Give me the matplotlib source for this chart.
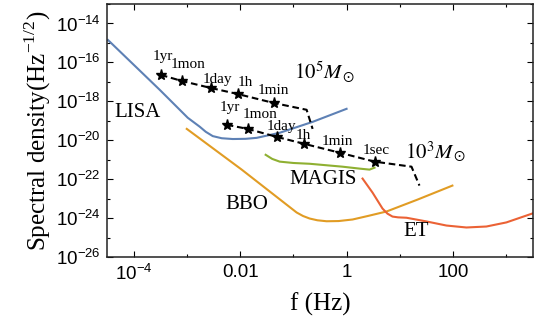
import numpy as np
import matplotlib
matplotlib.use('Agg')
from matplotlib import pyplot as plt
from matplotlib.ticker import FixedLocator, NullFormatter

# log10 values
lisa_logf = [-4.49, -3.515, -2.989, -2.763, -2.65, -2.519, -2.35, -2.143, -1.9, -1.692,
             -1.259, -0.639, 0.0]
lisa_logs = [-14.85, -17.41, -18.84, -19.30, -19.56, -19.78, -19.89, -19.93, -19.92, -19.87,
             -19.61, -19.05, -18.38]

bbo_logf = [-3.008, -1.974, -0.940, -0.82, -0.695, -0.55, -0.376, -0.15, 0.113, 0.4,
            0.752, 1.335, 1.992]
bbo_logs = [-19.41, -21.50, -23.70, -23.88, -24.01, -24.10, -24.15, -24.14, -24.06, -23.88,
            -23.65, -23.04, -22.32]

magis_logf = [-1.523, -1.40, -1.259, -1.0, -0.695, -0.075, 0.25, 0.432, 0.526]
magis_logs = [-20.74, -20.95, -21.09, -21.16, -21.20, -21.35, -21.45, -21.50, -21.40]

et_logf = [0.301, 0.489, 0.677, 0.77, 0.865, 0.97, 1.128, 1.504, 1.880, 2.256, 2.632,
           3.008, 3.5]
et_logs = [-21.96, -22.68, -23.50, -23.76, -23.91, -23.95, -23.97, -24.16, -24.37, -24.47,
           -24.42, -24.21, -23.75]

# inspiral tracks: starred points first, then the corner and end of the track
times_hi = ['1yr', '1mon', '1day', '1h', '1min']
hi_logf = [-3.496, -3.102, -2.556, -2.049, -1.372, -0.752, -0.639]
hi_logs = [-16.64, -16.95, -17.31, -17.62, -18.08, -18.43, -19.41]
hi_lab_logf = [-3.459, -2.989, -2.425, -1.898, -1.372]
hi_lab_logs = [-15.72, -16.13, -16.90, -17.05, -17.46]

times_lo = ['1yr', '1mon', '1day', '1h', '1min', '1sec']
lo_logf = [-2.256, -1.861, -1.316, -0.808, -0.132, 0.526, 1.222, 1.372]
lo_logs = [-19.20, -19.41, -19.82, -20.17, -20.63, -21.09, -21.35, -22.32]
lo_lab_logf = [-2.199, -1.635, -1.222, -0.808, -0.169, 0.564]
lo_lab_logs = [-18.33, -18.69, -19.30, -19.77, -20.07, -20.53]

names = ['LISA', 'BBO', 'MAGIS', 'ET', r'$10^5M_\odot$', r'$10^3M_\odot$']
name_logf = [-3.929, -1.880, -0.451, 1.316, -0.414, 1.673]
name_logs = [-18.59, -23.29, -22.02, -24.68, -16.49, -20.58]

serif = 'Liberation Serif'
sans = 'Liberation Sans'

fig = plt.figure(figsize=(5.41, 3.32), dpi=100)
ax = fig.add_axes([0.1987, 0.225, 0.7856, 0.763])

def p(lf, ls):
    return 10 ** np.array(lf), 10 ** np.array(ls)

lw = 1.5
ax.plot(*p(lisa_logf, lisa_logs), color='#5E81B5', lw=lw)
ax.plot(*p(bbo_logf, bbo_logs), color='#E19C24', lw=lw)
ax.plot(*p(magis_logf, magis_logs), color='#8FB032', lw=lw)
ax.plot(*p(et_logf, et_logs), color='#EB6235', lw=lw)

for lf, ls, n in [(hi_logf, hi_logs, len(times_hi)), (lo_logf, lo_logs, len(times_lo))]:
    x, y = p(lf, ls)
    ax.plot(x, y, color='black', lw=1.5, dashes=(3.2, 1.8))
    ax.plot(x[:n], y[:n], ls='none', marker='*', color='black', ms=8)

for t, lf, ls in zip(times_hi, hi_lab_logf, hi_lab_logs):
    ax.text(10 ** lf, 10 ** ls, t, ha='center', va='center', fontsize=11, family=serif)
for t, lf, ls in zip(times_lo, lo_lab_logf, lo_lab_logs):
    ax.text(10 ** lf, 10 ** ls, t, ha='center', va='center', fontsize=11, family=serif)
for t, lf, ls in zip(names, name_logf, name_logs):
    ax.text(10 ** lf, 10 ** ls, t, ha='center', va='center', fontsize=15, family=serif,
            math_fontfamily='stix')

ax.set_xscale('log')
ax.set_yscale('log')
ax.set_xlim(10 ** -4.5, 10 ** 3.5)
ax.set_ylim(1e-26, 1e-13)

xt = [1e-4, 1e-2, 1, 100]
ax.xaxis.set_major_locator(FixedLocator(xt))
ax.set_xticklabels([r'$\mathregular{10^{-4}}$', '0.01', '1', '100'])
ax.xaxis.set_minor_locator(FixedLocator([1e-3, 1e-1, 10, 1000]))
ax.xaxis.set_minor_formatter(NullFormatter())

yt = [10.0 ** e for e in range(-26, -13, 2)]
ax.yaxis.set_major_locator(FixedLocator(yt))
ax.set_yticklabels([r'$\mathregular{10^{%d}}$' % e for e in range(-26, -13, 2)])
ax.yaxis.set_minor_locator(FixedLocator([10.0 ** e for e in range(-25, -12, 2)]))
ax.yaxis.set_minor_formatter(NullFormatter())

ax.tick_params(which='both', direction='in', top=True, right=True, labelsize=13.5, pad=5)
ax.tick_params(which='major', length=4, width=0.8)
ax.tick_params(which='minor', length=2.5, width=0.8)
for lab in ax.get_xticklabels() + ax.get_yticklabels():
    lab.set_family(sans)
for s in ax.spines.values():
    s.set_linewidth(1.1)
    s.set_color('#222222')

ax.set_xlabel('f (Hz)', family=serif, fontsize=18, labelpad=6)
ax.set_ylabel(r'Spectral density(Hz$^{\mathregular{-1/2}}$)', family=serif, fontsize=18, labelpad=2)

plt.savefig('out.png', dpi=100)
